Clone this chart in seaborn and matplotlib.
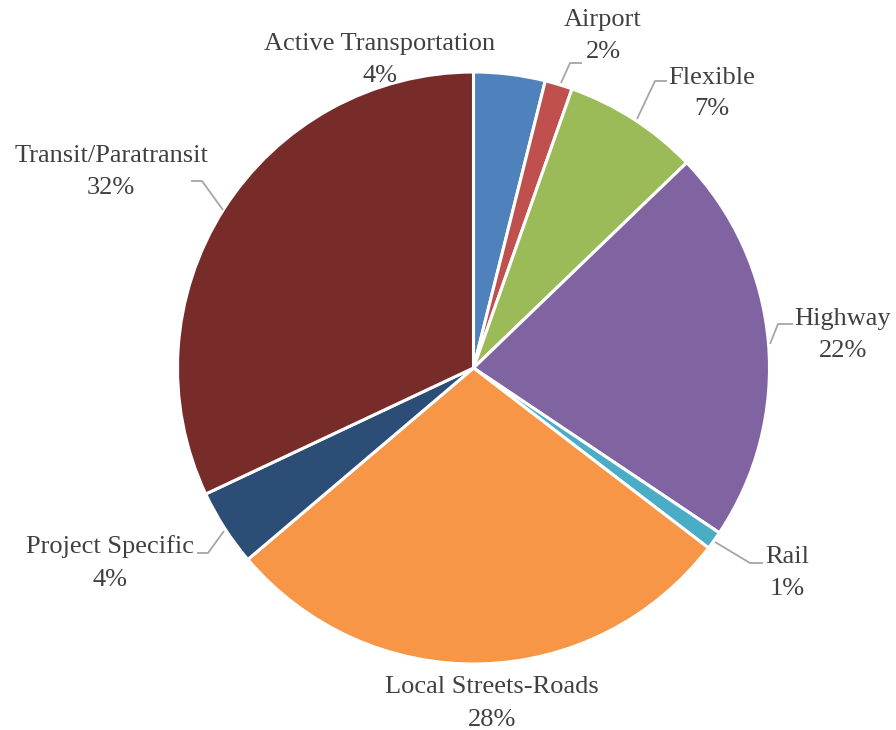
import matplotlib
matplotlib.use("Agg")
import matplotlib.pyplot as plt
import seaborn as sns

# ---- data ----
categories = ["Active Transportation", "Airport", "Flexible", "Highway", "Rail",
              "Local Streets-Roads", "Project Specific", "Transit/Paratransit"]
shares = [3.9, 1.5, 7.4, 21.6, 1.0, 28.4, 4.2, 32.0]
colors = ["#4F81BD", "#C0504D", "#9BBB59", "#8064A2", "#4BACC6",
          "#F79646", "#2C4D75", "#772C2A"]

# ---- layout (pixel positions, y from top) ----
W, H = 896, 730
center_px = (473.5, 368)
radius_px = 296
label_pos = {  # x center, baseline of name, baseline of pct
    "Active Transportation": (380, 50, 82),
    "Airport": (603, 26, 58),
    "Flexible": (712, 84, 115),
    "Highway": (843, 325, 357),
    "Rail": (787, 563, 595),
    "Local Streets-Roads": (492, 693, 726),
    "Project Specific": (110, 553, 586),
    "Transit/Paratransit": (111, 162, 194),
}
leaders = {
    "Airport": [(582, 63), (570, 63), (561, 83)],
    "Flexible": [(667, 81), (655, 81), (637, 119)],
    "Highway": [(793, 324), (778, 324), (770, 344)],
    "Rail": [(763, 563), (750, 563), (715, 542)],
    "Transit/Paratransit": [(191, 181), (202, 181), (223, 210)],
    "Project Specific": [(197, 553), (208, 553), (224, 531)],
}

sns.set_theme(style="white")
plt.rcParams["font.family"] = ["Liberation Serif", "DejaVu Serif"]

fig = plt.figure(figsize=(W / 100, H / 100), dpi=100)
ax = fig.add_axes([0, 0, 1, 1])

ax.pie(shares, colors=colors, startangle=90, counterclock=False,
       center=(center_px[0], H - center_px[1]), radius=radius_px,
       wedgeprops=dict(edgecolor="white", linewidth=2.2), frame=False)
ax.set_xlim(0, W)
ax.set_ylim(0, H)
ax.set_aspect("equal")
ax.axis("off")

tc = "#404040"
fs = 19
for cat, val in zip(categories, shares):
    x, yn, yp = label_pos[cat]
    ax.text(x, H - yn, cat, ha="center", va="baseline", fontsize=fs, color=tc)
    ax.text(x, H - yp, f"{round(val)}%", ha="center", va="baseline", fontsize=fs, color=tc)
    if cat in leaders:
        pts = leaders[cat]
        ax.plot([p[0] for p in pts], [H - p[1] for p in pts], color="#A6A6A6", lw=1.3,
                solid_capstyle="butt")

fig.savefig("out.png", dpi=100)
